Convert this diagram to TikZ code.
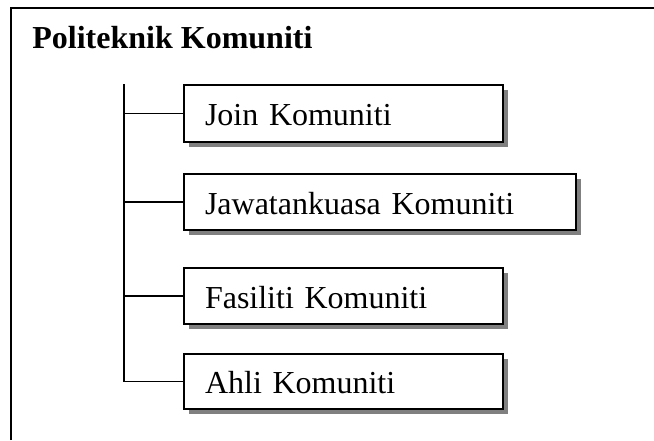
\documentclass[tikz,border=0pt]{standalone}
\usepackage{fontspec}
\setmainfont{Liberation Serif}
\usetikzlibrary{shadows}
\begin{document}
\begin{tikzpicture}[x=0.5pt,y=-0.5pt,
  item/.style={draw, line width=1pt, fill=white, anchor=north west,
    inner xsep=10.5pt, inner ysep=0pt, align=left,
    text height=12pt, text depth=0pt,
    font=\fontsize{16}{19}\selectfont,
    drop shadow={shadow xshift=2.5pt, shadow yshift=-2.5pt, fill=black!50, opacity=1}},
  link/.style={line width=0.9pt},
  frame/.style={line width=1.2pt}]
\useasboundingbox (0,0) rectangle (654,440);
% frame (only top and left sides visible)
\coordinate (fbl) at (11,440);
\coordinate (ftl) at (11,8);
\coordinate (ftr) at (654,8);
\draw[frame] (fbl) -- (ftl) -- (ftr);
% title
\node[font=\fontsize{16}{19}\selectfont\bfseries, anchor=base west, inner sep=0pt] (title) at (32,48) {Politeknik Komuniti};
% boxes
\node[item, text width=138.5pt, minimum height=28.5pt] (b1) at (183,84) {Join Komuniti};
\node[item, text width=175pt, minimum height=28pt] (b2) at (183,173) {Jawatankuasa Komuniti};
\node[item, text width=138.5pt, minimum height=28pt] (b3) at (183,267) {Fasiliti Komuniti};
\node[item, text width=138.5pt, minimum height=27.5pt] (b4) at (183,353) {Ahli Komuniti};
% spine
\coordinate (spinetop) at (124,84);
\draw[link] (spinetop) |- (b4.west);
\draw[link] (spinetop |- b1.west) -- (b1.west);
\draw[link] (spinetop |- b2.west) -- (b2.west);
\draw[link] (spinetop |- b3.west) -- (b3.west);
\end{tikzpicture}
\end{document}
